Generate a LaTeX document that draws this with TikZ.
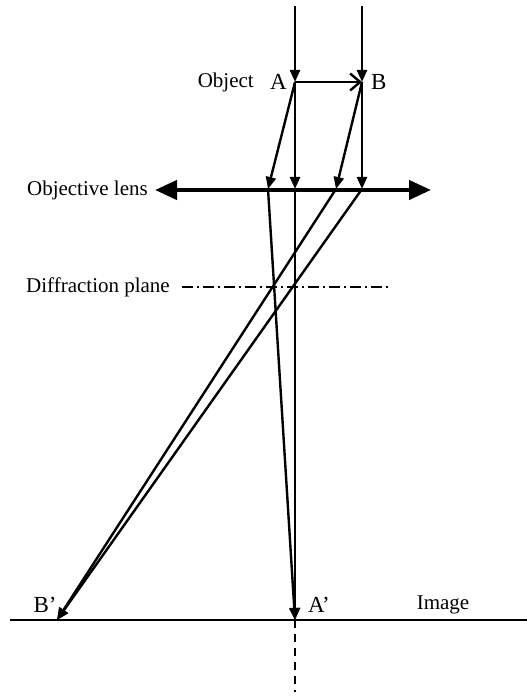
\documentclass[tikz,border=0pt]{standalone}
\usepackage{fontspec}
\setmainfont{Liberation Serif}
\usetikzlibrary{arrows.meta}
\tikzset{
    % Text labels
    label text/.style={font=\fontsize{21}{24}\selectfont, inner sep=0pt},
    point text/.style={font=\fontsize{23}{26}\selectfont, inner sep=0pt},
    % Light rays with filled heads
    ray/.style={line width=2.4pt, -{Triangle[length=12pt, width=10pt]}},
    % Object arrow with open head
    object arrow/.style={line width=2.4pt, -{Straight Barb[length=10pt, width=17pt, line width=2.4pt]}},
    % Lens drawn as a thick double arrow
    lens/.style={line width=4.2pt, {Triangle[length=22pt, width=19pt]}-{Triangle[length=22pt, width=19pt]}},
    % Planes
    plane/.style={line width=1.6pt, dash pattern=on 11pt off 4pt on 2pt off 4pt},
    image plane/.style={line width=1.8pt},
    axis/.style={line width=2pt, dash pattern=on 8pt off 6pt},
}
\begin{document}
\begin{tikzpicture}[x=1pt, y=1pt]
    \useasboundingbox (0,0) rectangle (527,696);
    % points
    \coordinate (topA) at (295,690);
    \coordinate (topB) at (362,690);
    \coordinate (A) at (295,614);
    \coordinate (B) at (362,614);
    \coordinate (lensL) at (155,506);
    \coordinate (lensR) at (431,506);
    \coordinate (L1) at (268,507);
    \coordinate (L2) at (295,507);
    \coordinate (L3) at (336,507);
    \coordinate (L4) at (362,507);
    \coordinate (diffL) at (182,409);
    \coordinate (diffR) at (388,409);
    \coordinate (imgL) at (10,76);
    \coordinate (imgR) at (527,76);
    \coordinate (Ai) at (295,76);
    \coordinate (Bi) at (57,76);
    \coordinate (axisEnd) at (295,4);

    % labels
    \node (object) [label text, anchor=east] at (254,614) {Object};
    \node (labA) [point text, anchor=east] at (287,614) {A};
    \node (labB) [point text, anchor=west] at (371,614) {B};
    \node (labLens) [label text, anchor=east] at (148,506) {Objective lens};
    \node (labDiff) [label text, anchor=east] at (170,409) {Diffraction plane};
    \node (labBi) [point text] at (45,91) {B’};
    \node (labAi) [point text] at (319,91) {A’};
    \node (labImg) [label text] at (443,91) {Image};

    % planes
    \draw [image plane] (imgL) -- (imgR);
    \draw [plane] (diffL) -- (diffR);
    \draw [axis] (Ai) -- (axisEnd);
    \draw [lens] (lensL) -- (lensR);

    % object
    \draw [object arrow] (A) -- (B);

    % incoming rays
    \draw [ray] (topA) -- (A);
    \draw [ray] (topB) -- (B);
    \draw [ray] (A) -- (L1);
    \draw [ray] (A) -- (L2);
    \draw [ray] (B) -- (L3);
    \draw [ray] (B) -- (L4);

    % rays after the lens
    \draw [ray] (L1) -- (Ai);
    \draw [ray] (L2) -- (Ai);
    \draw [ray] (L3) -- (Bi);
    \draw [ray] (L4) -- (Bi);
\end{tikzpicture}
\end{document}
